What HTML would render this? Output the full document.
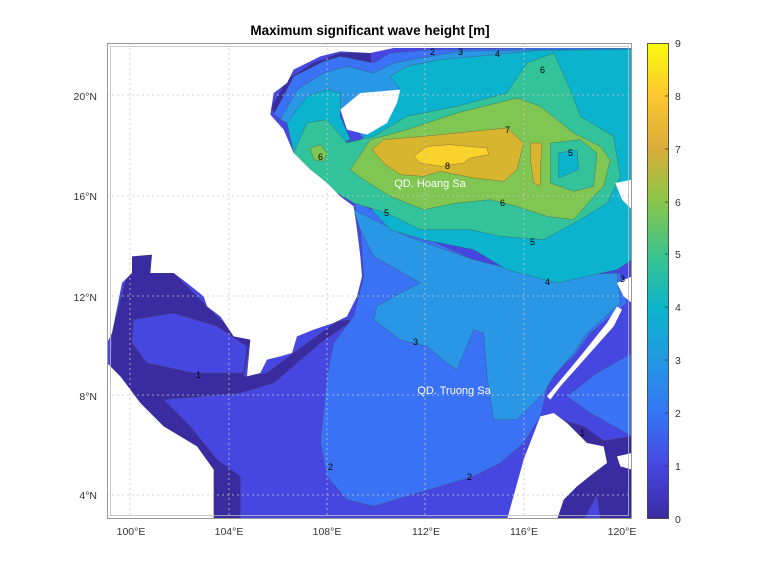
<!DOCTYPE html>
<html><head><meta charset="utf-8"><style>
body{margin:0;background:#fff;}
svg text{font-family:"Liberation Sans","DejaVu Sans",sans-serif;}
</style></head><body>
<svg width="778" height="583" viewBox="0 0 778 583" xmlns="http://www.w3.org/2000/svg">
<defs>
<linearGradient id="cb" x1="0" y1="1" x2="0" y2="0">
<stop offset="0" stop-color="#3a2ca0"/>
<stop offset="0.11" stop-color="#4646e0"/>
<stop offset="0.22" stop-color="#3575f5"/>
<stop offset="0.33" stop-color="#2497e2"/>
<stop offset="0.44" stop-color="#0ab4cc"/>
<stop offset="0.55" stop-color="#38c48f"/>
<stop offset="0.67" stop-color="#8cc548"/>
<stop offset="0.78" stop-color="#dbad3a"/>
<stop offset="0.89" stop-color="#fcc72e"/>
<stop offset="1" stop-color="#f9fb0e"/>
</linearGradient>
<clipPath id="ax"><rect x="107" y="43" width="525" height="476"/></clipPath>
</defs>
<rect width="778" height="583" fill="#fff"/>
<text x="370" y="35" font-size="13.5" font-weight="bold" text-anchor="middle" fill="#000">Maximum significant wave height [m]</text>
<g clip-path="url(#ax)">
<g transform="translate(107,43) scale(0.33333)">
<rect x="0" y="0" width="1575" height="1430" fill="#4646e0"/>
<g stroke="#444" stroke-width="1.5" stroke-opacity="0.6">
<!-- L0 dark -->
<polygon fill="#3a2ca0" points="15,870 75,640 135,635 130,690 200,690 300,790 340,830 430,890 410,1000 480,990 560,930 690,835 740,830 640,900 500,1020 400,1050 170,1070 250,1150 330,1250 400,1300 400,1430 320,1430 10,1000"/>
<polygon fill="#4646e0" points="80,830 200,810 330,850 420,910 410,990 260,990 120,960 75,900"/>
<polygon fill="#3a2ca0" points="1330,1120 1430,1150 1500,1200 1500,1300 1430,1430 1340,1430 1300,1200"/>
<polygon fill="#3a2ca0" points="1450,1200 1575,1180 1575,1430 1480,1430"/>
<polygon fill="#3a2ca0" points="490,200 540,110 620,60 700,30 790,30 800,120 700,110 600,140 530,220"/>
<!-- L2 -->
<polygon fill="#3a72f6" points="740,470 900,560 1100,650 1300,720 1540,690 1560,780 1450,870 1400,940 1330,1000 1300,1120 1250,1200 1180,1260 1100,1300 1000,1330 900,1360 800,1390 720,1370 660,1300 640,1200 660,1000 680,900 740,820 770,700 760,560"/>
<polygon fill="#3a72f6" points="500,215 560,100 650,55 700,40 800,60 850,30 975,20 1575,10 1575,300 860,300 700,140 600,170 540,240"/>
<polygon fill="#3a72f6" points="1380,1060 1470,990 1575,930 1575,1180 1450,1110"/>
<!-- L3 -->
<polygon fill="#2a96e6" points="740,500 900,580 1100,650 1300,700 1530,690 1540,780 1440,870 1400,930 1340,1000 1310,1050 1230,1130 1160,1130 1140,1000 1130,870 1100,860 1050,980 1020,960 960,910 880,890 800,830 810,790 880,750 940,720 800,640 760,560"/>
<polygon fill="#2a96e6" points="520,230 570,140 650,90 720,70 800,90 860,60 1055,25 1575,15 1575,400 860,400 700,200 620,170 560,250"/>
<!-- L4 -->
<polygon fill="#0bb3cf" points="740,440 850,560 950,590 1100,620 1200,680 1350,720 1530,680 1575,650 1575,20 1300,22 1165,35 1000,50 900,70 850,100 880,140 860,200 800,260 760,290 700,300 560,330"/>
<polygon fill="#0bb3cf" points="560,330 540,240 600,160 660,140 700,150 700,220 730,290 650,320"/>
<!-- L5 -->
<polygon fill="#32c39a" points="560,330 600,240 660,230 720,300 800,280 900,220 1050,190 1200,150 1260,60 1340,30 1390,140 1420,220 1520,280 1540,400 1500,480 1420,530 1310,590 1180,580 1090,560 940,560 840,510 740,480 640,420 600,380"/>
<!-- L6 -->
<polygon fill="#80c653" points="730,380 790,290 900,260 1050,210 1230,165 1300,190 1400,270 1480,310 1510,350 1490,430 1460,460 1400,530 1320,520 1230,490 1150,470 1050,480 950,500 850,460 770,410"/>
<polygon fill="#80c653" points="610,315 640,305 660,330 650,355 620,350"/>
<polygon fill="#32c39a" points="1330,300 1420,290 1470,330 1460,430 1400,445 1330,420"/>
<polygon fill="#0bb3cf" points="1355,330 1410,320 1415,380 1355,405"/>
<!-- L7 -->
<polygon fill="#d8b52e" points="795,320 830,290 950,280 1100,265 1200,255 1250,300 1230,380 1190,415 1100,405 1000,385 950,400 880,395 830,360"/>
<polygon fill="#d8b52e" points="1270,300 1305,300 1300,380 1300,430 1280,420 1270,350"/>
<!-- L8 -->
<polygon fill="#fbd12b" points="920,340 960,310 1030,305 1140,315 1145,335 1090,345 1070,360 1000,370 940,360"/>
</g>
<!-- land -->
<g fill="#fff">
<polygon points="0,0 860,0 860,15 790,30 700,25 640,40 560,80 540,120 500,150 490,215 530,260 560,330 610,380 660,420 700,460 740,490 750,560 760,640 765,700 750,760 720,820 680,840 620,860 570,880 555,930 520,940 480,950 460,990 420,1000 430,890 380,880 340,820 300,790 290,760 240,720 200,690 130,690 135,635 75,640 75,690 45,720 15,870 0,900"/>
<polygon points="0,960 40,1000 100,1080 170,1150 270,1210 320,1280 320,1430 0,1430"/>
<polygon points="700,200 760,150 880,140 870,180 840,240 780,275 720,260"/>
<polygon points="860,0 1575,0 1575,15 860,15"/>
<polygon points="1200,1430 1250,1250 1300,1120 1340,1110 1380,1140 1440,1200 1490,1210 1500,1260 1460,1290 1410,1330 1370,1370 1350,1430"/>
<polygon points="1320,1060 1420,940 1500,840 1530,790 1545,800 1520,850 1440,940 1360,1030 1330,1070"/>
<polygon points="1530,720 1575,700 1575,780 1550,760"/>
<polygon points="1525,420 1575,410 1575,500 1545,470"/>
<polygon points="1530,1240 1575,1230 1575,1280 1540,1270"/>
</g>
</g>
<!-- grid -->
<g stroke="#c8c8c8" stroke-width="0.8" stroke-dasharray="2,3">
<line x1="130" y1="43" x2="130" y2="519"/><line x1="229" y1="43" x2="229" y2="519"/><line x1="327" y1="43" x2="327" y2="519"/><line x1="425" y1="43" x2="425" y2="519"/><line x1="524" y1="43" x2="524" y2="519"/>
<line x1="107" y1="95" x2="632" y2="95"/><line x1="107" y1="196" x2="632" y2="196"/><line x1="107" y1="296" x2="632" y2="296"/><line x1="107" y1="395" x2="632" y2="395"/><line x1="107" y1="495" x2="632" y2="495"/>
</g>
<g font-size="9" fill="#000">
<text x="530" y="245">5</text><text x="545" y="285">4</text><text x="500" y="206">6</text><text x="445" y="169">8</text><text x="540" y="73">6</text><text x="505" y="133">7</text><text x="413" y="345">3</text><text x="328" y="470">2</text><text x="467" y="480">2</text><text x="196" y="378">1</text><text x="580" y="436">1</text><text x="620" y="282">3</text><text x="568" y="156">5</text><text x="318" y="160">6</text><text x="384" y="216">5</text><text x="458" y="55">3</text><text x="495" y="57">4</text><text x="430" y="55">2</text>
</g>
<text x="430" y="187" font-size="11" fill="#fff" text-anchor="middle">QD. Hoang Sa</text>
<text x="454" y="394" font-size="11" fill="#fff" text-anchor="middle">QD. Truong Sa</text>
</g>
<rect x="107.5" y="43.5" width="524" height="475" fill="none" stroke="#999" stroke-width="1"/>
<rect x="110.5" y="46.5" width="518" height="469" fill="none" stroke="#bbb" stroke-width="0.8"/>
<g font-size="10.5" fill="#333">
<text x="97" y="100" text-anchor="end">20°N</text><text x="97" y="200" text-anchor="end">16°N</text><text x="97" y="301" text-anchor="end">12°N</text><text x="97" y="400" text-anchor="end">8°N</text><text x="97" y="499" text-anchor="end">4°N</text>
<text x="131" y="535" text-anchor="middle">100°E</text><text x="229" y="535" text-anchor="middle">104°E</text><text x="327" y="535" text-anchor="middle">108°E</text><text x="426" y="535" text-anchor="middle">112°E</text><text x="524" y="535" text-anchor="middle">116°E</text><text x="622" y="535" text-anchor="middle">120°E</text>
</g>
<rect x="647.5" y="43.5" width="21" height="475" fill="url(#cb)" stroke="#333" stroke-width="0.8"/>
<g stroke="#333" stroke-width="0.8">
<line x1="665" y1="96" x2="668" y2="96"/><line x1="665" y1="149" x2="668" y2="149"/><line x1="665" y1="202" x2="668" y2="202"/><line x1="665" y1="254" x2="668" y2="254"/><line x1="665" y1="307" x2="668" y2="307"/><line x1="665" y1="360" x2="668" y2="360"/><line x1="665" y1="413" x2="668" y2="413"/><line x1="665" y1="466" x2="668" y2="466"/>
</g>
<g font-size="10.5" fill="#333">
<text x="675" y="47">9</text><text x="675" y="100">8</text><text x="675" y="153">7</text><text x="675" y="206">6</text><text x="675" y="258">5</text><text x="675" y="311">4</text><text x="675" y="364">3</text><text x="675" y="417">2</text><text x="675" y="470">1</text><text x="675" y="523">0</text>
</g>
</svg>
</body></html>
